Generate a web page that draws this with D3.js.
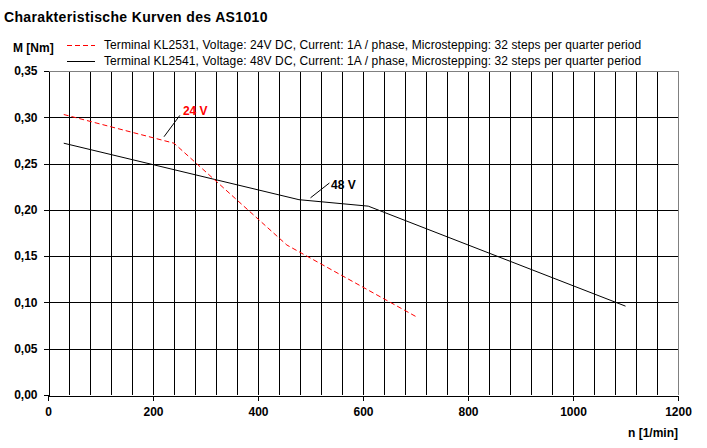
<!DOCTYPE html>
<html>
<head>
<meta charset="utf-8">
<script src="https://cdn.jsdelivr.net/npm/d3@7"></script>
<style>
  body { margin: 0; background: #fff; }
  svg { display: block; font-family: "Liberation Sans", Arial, sans-serif; }
</style>
</head>
<body>
<div id="chart"></div>
<script>
// Chart data (n in 1/min, M in Nm)
const series24N = [30, 240, 455, 700];
const series24M = [0.303, 0.272, 0.162, 0.085];
const series48N = [30, 478, 610, 1100];
const series48M = [0.272, 0.211, 0.204, 0.096];

const legendLabels = [
    "Terminal KL2531, Voltage: 24V DC, Current: 1A / phase, Microstepping: 32 steps per quarter period",
    "Terminal KL2541, Voltage: 48V DC, Current: 1A / phase, Microstepping: 32 steps per quarter period"
];

const xTicks = [0, 200, 400, 600, 800, 1000, 1200];
const yTicks = [0, 0.05, 0.10, 0.15, 0.20, 0.25, 0.30, 0.35];

// Curve annotations: label position and leader line, in data units
const notes = [
    {text: "24 V", color: "#ff0000", x: 257, y: 0.302, lx1: 221, ly1: 0.279, lx2: 251, ly2: 0.302},
    {text: "48 V", color: "#000000", x: 539, y: 0.222, lx1: 500, ly1: 0.213, lx2: 536, ly2: 0.229}
];

const width = 707, height = 448;
const margin = {top: 71, right: 29, bottom: 53, left: 48};

const svg = d3.select("#chart")
    .append("svg")
    .attr("width", width)
    .attr("height", height);

const x = d3.scaleLinear()
    .domain([0, 1200])
    .range([margin.left, width - margin.right]);

const y = d3.scaleLinear()
    .domain([0, 0.35])
    .range([height - margin.bottom, margin.top]);

const px = v => Math.round(v) + 0.5;
const comma = v => d3.format(".2f")(v).replace(".", ",");

// Title
svg.append("text")
    .attr("x", 4)
    .attr("y", 22)
    .style("font-size", "14px")
    .style("font-weight", "bold")
    .style("letter-spacing", "0.35px")
    .text("Charakteristische Kurven des AS1010");

// Axis titles
svg.append("text")
    .attr("x", 13)
    .attr("y", 52)
    .style("font-size", "12px")
    .style("font-weight", "bold")
    .text("M [Nm]");

svg.append("text")
    .attr("x", x(1200))
    .attr("y", 437)
    .attr("text-anchor", "end")
    .style("font-size", "12px")
    .style("font-weight", "bold")
    .text("n [1/min]");

// Legend
const legend = svg.append("g");
legendLabels.forEach((label, i) => {
    const ly = 45 + i * 16;
    legend.append("line")
        .attr("x1", 67).attr("x2", 95)
        .attr("y1", ly + 0.5).attr("y2", ly + 0.5)
        .attr("stroke", i === 0 ? "#ff0000" : "#000")
        .attr("stroke-dasharray", i === 0 ? "5,3" : null)
        .attr("shape-rendering", "crispEdges");
    legend.append("text")
        .attr("x", 104)
        .attr("y", ly + 4)
        .style("font-size", "12px")
        .style("letter-spacing", "0.1px")
        .text(label);
});

// Grid
const grid = svg.append("g").attr("shape-rendering", "crispEdges");

grid.selectAll(".vgrid")
    .data(d3.range(40, 1200, 40))
    .enter().append("line")
    .attr("x1", d => px(x(d))).attr("x2", d => px(x(d)))
    .attr("y1", y(0.35)).attr("y2", y(0))
    .attr("stroke", "#000");

grid.selectAll(".hgrid")
    .data(yTicks.filter(d => d > 0 && d < 0.35))
    .enter().append("line")
    .attr("x1", x(0)).attr("x2", x(1200))
    .attr("y1", d => px(y(d))).attr("y2", d => px(y(d)))
    .attr("stroke", "#000");

// Gray top and right frame
grid.append("line")
    .attr("x1", x(0)).attr("x2", px(x(1200)))
    .attr("y1", px(y(0.35))).attr("y2", px(y(0.35)))
    .attr("stroke", "#808080");
grid.append("line")
    .attr("x1", px(x(1200))).attr("x2", px(x(1200)))
    .attr("y1", y(0.35)).attr("y2", y(0))
    .attr("stroke", "#808080");

// Axes
const yAxis = svg.append("g")
    .attr("transform", `translate(${px(x(0))},0)`)
    .call(d3.axisLeft(y).tickValues(yTicks).tickSize(5).tickSizeOuter(0).tickFormat(comma))
    .attr("shape-rendering", "crispEdges");

const xAxis = svg.append("g")
    .attr("transform", `translate(0,${px(y(0))})`)
    .call(d3.axisBottom(x).tickValues(xTicks).tickSize(5).tickSizeOuter(0).tickFormat(d3.format("d")))
    .attr("shape-rendering", "crispEdges");

[yAxis, xAxis].forEach(a => {
    a.selectAll("path, line").attr("stroke", "#000");
    a.selectAll("text")
        .attr("fill", "#000")
        .style("font-family", "'Liberation Sans', Arial, sans-serif")
        .style("font-size", "12px")
        .style("font-weight", "bold");
});
yAxis.selectAll("text").attr("x", -11);
xAxis.selectAll("text").attr("y", 12);

// Curves
const line = d3.line()
    .x(d => x(d[0]))
    .y(d => y(d[1]));

svg.append("path")
    .datum(series48N.map((n, i) => [n, series48M[i]]))
    .attr("d", line)
    .attr("fill", "none")
    .attr("stroke", "#000")
    .attr("stroke-width", 1);

svg.append("path")
    .datum(series24N.map((n, i) => [n, series24M[i]]))
    .attr("d", line)
    .attr("fill", "none")
    .attr("stroke", "#ff0000")
    .attr("stroke-width", 1)
    .attr("stroke-dasharray", "5,3");

// Annotations
notes.forEach(n => {
    svg.append("line")
        .attr("x1", x(n.lx1)).attr("y1", y(n.ly1))
        .attr("x2", x(n.lx2)).attr("y2", y(n.ly2))
        .attr("stroke", "#000");
    svg.append("text")
        .attr("x", x(n.x))
        .attr("y", y(n.y))
        .attr("fill", n.color)
        .style("font-size", "12px")
        .style("font-weight", "bold")
        .text(n.text);
});
</script>
</body>
</html>
